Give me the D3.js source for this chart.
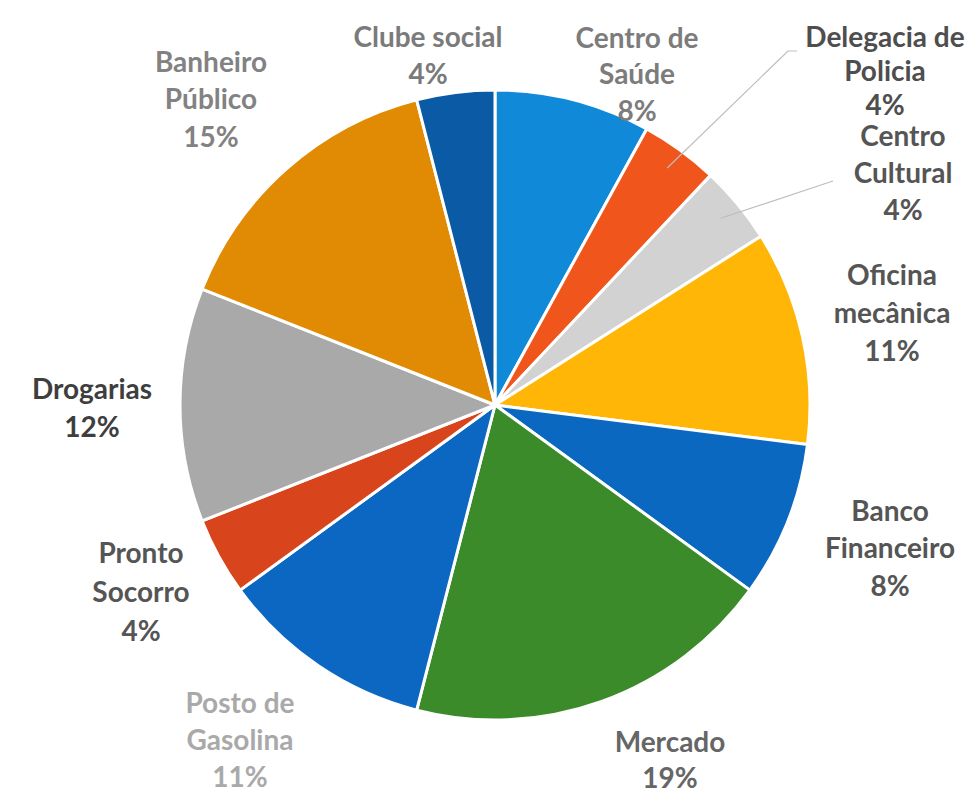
<!DOCTYPE html>
<html><head><meta charset="utf-8">
<script src="https://cdn.jsdelivr.net/npm/d3@7"></script>
<style>body{margin:0;background:#fff}</style>
</head><body>
<svg id="c" width="972" height="796"></svg>
<script>
const categories = ["Centro de Saúde","Delegacia de Policia","Centro Cultural","Oficina mecânica","Banco Financeiro","Mercado","Posto de Gasolina","Pronto Socorro","Drogarias","Banheiro Público","Clube social"];
const values = [8,4,4,11,8,19,11,4,12,15,4];
const labelLines = [["Centro de","Saúde"],["Delegacia de","Policia"],["Centro","Cultural"],["Oficina","mecânica"],["Banco","Financeiro"],["Mercado"],["Posto de","Gasolina"],["Pronto","Socorro"],["Drogarias"],["Banheiro","Público"],["Clube social"]];

// styling / layout (not data)
const colors = ["#0f89d8","#f0561c","#d2d2d2","#ffb606","#0a68c0","#3b8b2a","#0b67c2","#d8441c","#a9a9a9","#e18b05","#0b5aa6"];
const textColors = ["#7c7c7c","#4e4e4e","#555","#555","#555","#666","#a9a9a9","#555","#3e3e3e","#828282","#7a7a7a"];
const labelPos = [[637,38],[885,37],[903,136],[892,275],[890,511],[670,742],[240,703],[141,553],[92,389],[211,62],[428,37]];
const lineHeights = [36.5,34,37,38,37.5,36,37,39,38,37.5,37];

const svg = d3.select("#c");
svg.append("rect").attr("width",972).attr("height",796).attr("fill","#fff");
const cx = 495, cy = 405, R = 315;
const g = svg.append("g").attr("transform",`translate(${cx},${cy})`);
const pie = d3.pie().sort(null).value(d=>d);
const arcs = pie(values);
const arc = d3.arc().innerRadius(0).outerRadius(R);
g.selectAll("path").data(arcs).join("path")
  .attr("d",arc).attr("fill",(d,i)=>colors[i])
  .attr("stroke","#fff").attr("stroke-width",3).attr("stroke-linejoin","round");

// leader lines for the two small slices at the top right
const lineArc = d3.arc().innerRadius(R*0.93).outerRadius(R*0.93);
function leader(i, pts){
  const a = arcs[i];
  const p0 = [cx + lineArc.centroid(a)[0], cy + lineArc.centroid(a)[1]];
  svg.append("polyline").attr("points",[p0,...pts].map(p=>p.join(",")).join(" "))
    .attr("fill","none").attr("stroke","#bdbdbd").attr("stroke-width",1.2);
}
leader(1, [[788,51],[797,51]]);
leader(2, [[833,181]]);

const lab = svg.append("g").attr("font-family","Lato, 'Open Sans', sans-serif").attr("font-weight",700).attr("font-size",28).attr("text-anchor","middle");
categories.forEach((c,i)=>{
  const lines = labelLines[i].concat([Math.round(values[i]) + "%"]);
  const t = lab.append("text").attr("fill",textColors[i]);
  lines.forEach((s,k)=>{
    t.append("tspan").attr("x",labelPos[i][0]).attr("y",labelPos[i][1] + k*lineHeights[i]).attr("dy","0.35em").text(s);
  });
});
</script>
</body></html>
